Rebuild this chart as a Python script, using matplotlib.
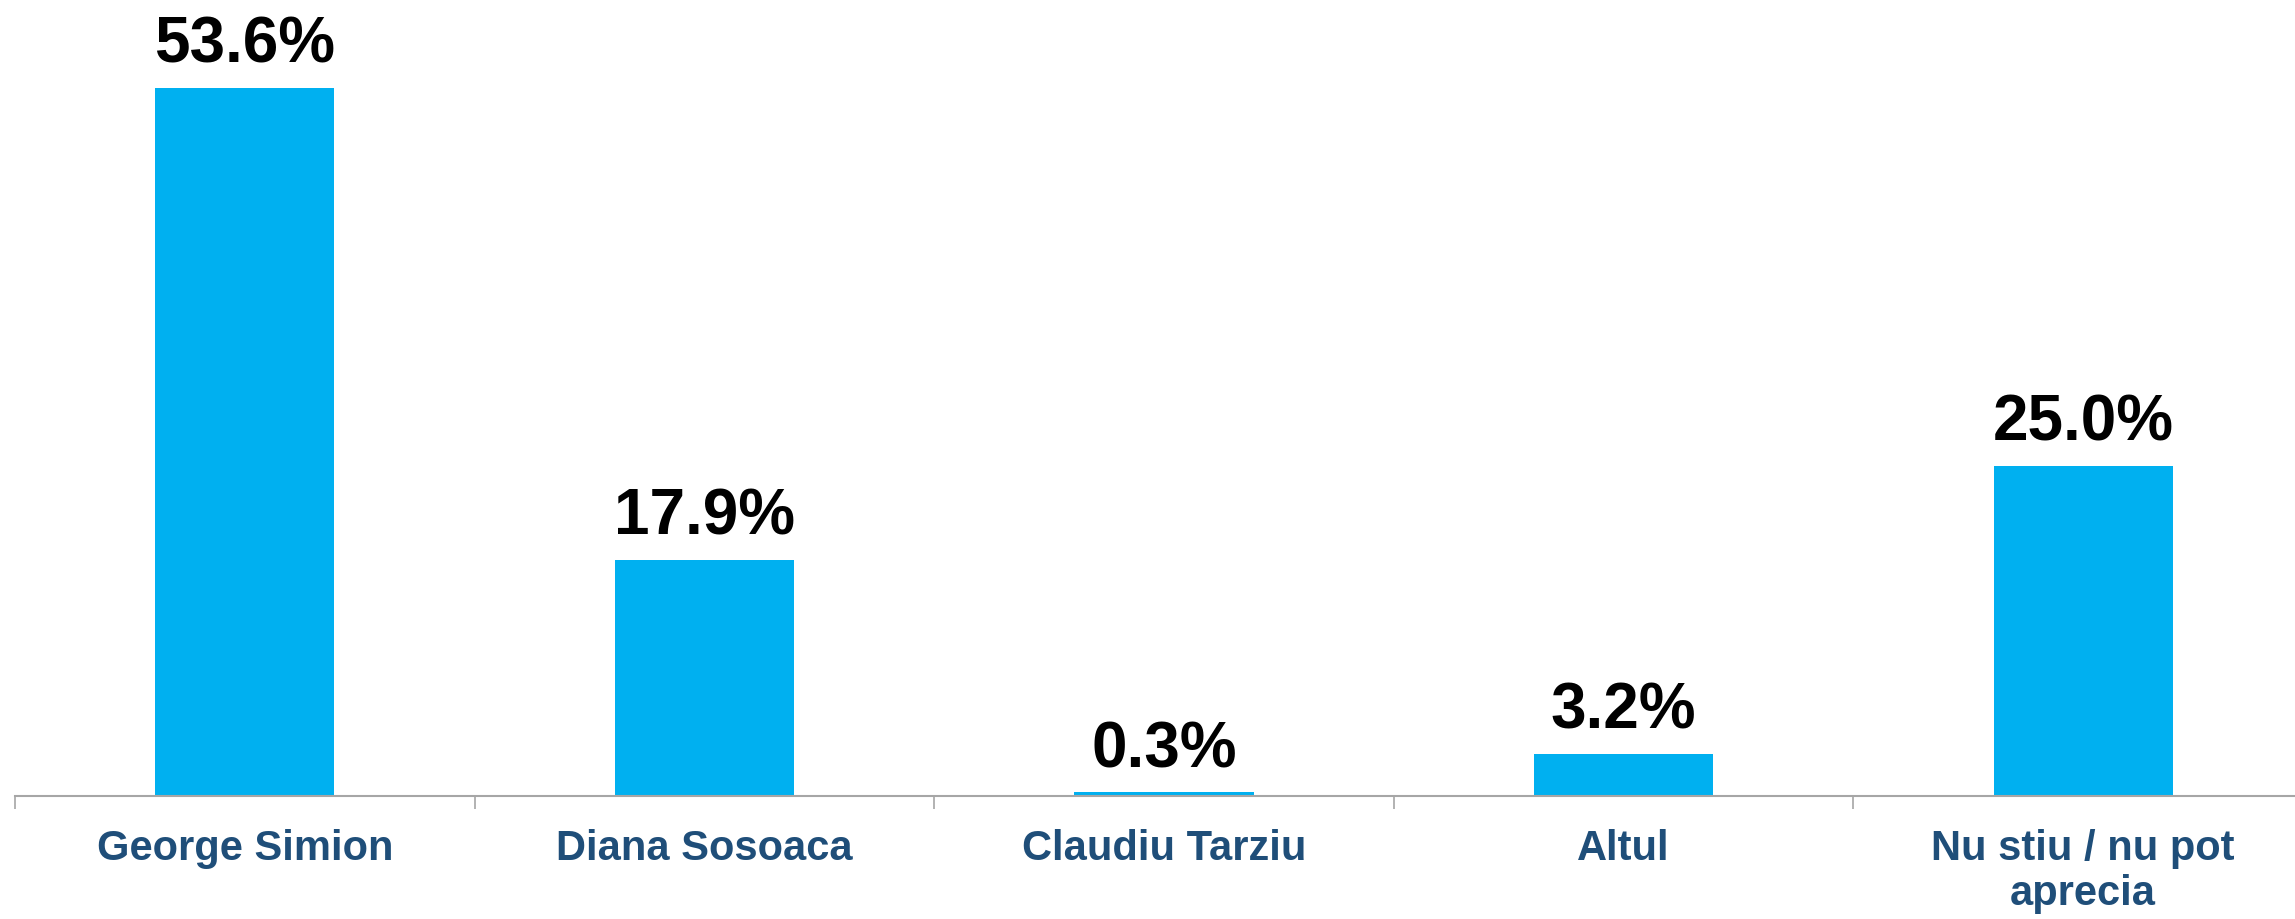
import matplotlib
matplotlib.use('Agg')
import matplotlib.pyplot as plt
import numpy as np

plt.rcParams['font.family'] = ['Liberation Sans', 'DejaVu Sans']

categories = ['George Simion', 'Diana Sosoaca', 'Claudiu Tarziu', 'Altul',
              'Nu stiu / nu pot\naprecia']
values = [53.6, 17.9, 0.3, 3.2, 25.0]

bar_color = '#00B0F0'
label_color = '#1F4E79'
axis_color = '#A6A6A6'

fig = plt.figure(figsize=(22.95, 9.19), dpi=100)
ax = fig.add_axes([15 / 2295, 123 / 919, 5 * 459.6 / 2295, 796 / 919])

x = np.arange(len(categories))
bars = ax.bar(x, values, width=0.39, color=bar_color, zorder=2)

for rect, v in zip(bars, values):
    ax.annotate('%.1f%%' % v, (rect.get_x() + rect.get_width() / 2, rect.get_height()),
                xytext=(0, 18), textcoords='offset points',
                ha='center', va='baseline', fontsize=46, fontweight='bold', color='black')

ax.set_xlim(-0.5, 4.5)
ax.set_ylim(0, 60.26)

ax.set_xticks(x)
ax.set_xticklabels(categories, fontsize=30, fontweight='bold', color=label_color,
                   linespacing=1.15)
ax.tick_params(axis='x', which='major', length=0, pad=24)
ax.set_xticks(np.arange(-0.5, 5, 1), minor=True)
ax.tick_params(axis='x', which='minor', length=9, width=1.2, color=axis_color, direction='out')

ax.set_yticks([])
for s in ['top', 'right', 'left']:
    ax.spines[s].set_visible(False)
ax.spines['bottom'].set_color(axis_color)
ax.spines['bottom'].set_linewidth(1.5)
ax.spines['bottom'].set_zorder(3)

fig.savefig('out.png', dpi=100)
